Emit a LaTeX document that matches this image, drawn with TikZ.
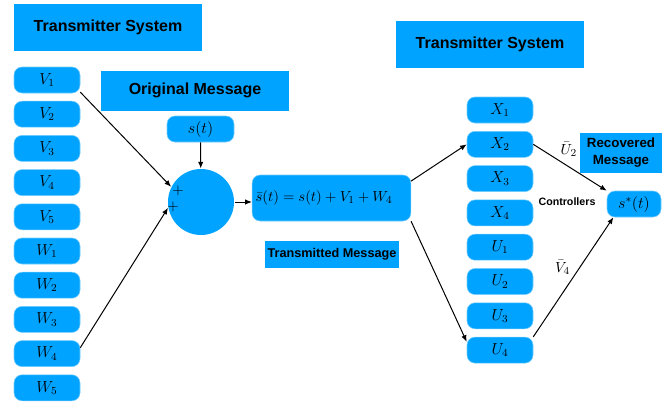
\documentclass[tikz,border=0pt]{standalone}
\usepackage{fontspec}
\newfontfamily\labelfont{Liberation Sans}
\usetikzlibrary{arrows.meta}
\definecolor{cellblue}{RGB}{0,163,255}
\tikzset{every picture/.style={line width=0.75pt}}
\tikzset{
  cell/.style={rectangle, rounded corners=6pt, fill=cellblue, draw=cellblue!55!white, line width=0.4pt,
    minimum width=49.5pt, minimum height=19.5pt, inner sep=0pt, font=\fontsize{12}{14}\selectfont},
  banner/.style={rectangle, fill=cellblue, inner sep=0pt, font=\labelfont\bfseries\fontsize{12}{14}\selectfont},
  caption/.style={font=\labelfont\bfseries\fontsize{8}{10}\selectfont, inner sep=0pt},
  flow/.style={-{Latex[length=5pt,width=4pt]}, line width=0.75pt},
}

\begin{document}
\begin{tikzpicture}[x=0.75pt,y=0.75pt,yscale=-1,xscale=1]
	\useasboundingbox (0,0) rectangle (662,404);

	% Title boxes
	\node[banner, minimum width=141pt, minimum height=35.25pt] (tsleft) at (108,27.5) {Transmitter System};
	\node[banner, minimum width=141pt, minimum height=30pt] (orig) at (195,90.5) {\raisebox{2.5pt}{Original Message}};
	\node[banner, minimum width=141pt, minimum height=35.25pt] (tsright) at (490,44.5) {Transmitter System};
	\node[banner, minimum width=100.5pt, minimum height=20.25pt, font=\labelfont\bfseries\fontsize{9.5}{11}\selectfont] (trans) at (332,254.5) {Transmitted Message};
	\node[banner, minimum width=61.5pt, minimum height=30pt, align=center, font=\labelfont\bfseries\fontsize{10}{12.75}\selectfont] (recov) at (621,153) {Recovered\\Message};

	% Left column of keys
	\foreach \lbl [count=\i] in {V_1,V_2,V_3,V_4,V_5,W_1,W_2,W_3,W_4,W_5}
		\node[cell] (L\i) at (47,{80+34.2*(\i-1)}) {$\lbl$};

	% Right column of keys
	\foreach \lbl [count=\i] in {X_1,X_2,X_3,X_4,U_1,U_2,U_3,U_4}
		\node[cell] (R\i) at (500,{110+34.3*(\i-1)}) {$\lbl$};

	% Message nodes
	\node[cell, minimum width=50.25pt] (src) at (200.5,129) {$s(t)$};
	\node[circle, fill=cellblue, minimum size=49.5pt, inner sep=0pt] (sum) at (201,202) {};
	\node[cell, minimum height=34.5pt, text width=114pt, align=left, inner xsep=2.5pt, font=\fontsize{11}{13}\selectfont] (sbar) at (331.5,198) {$\bar{s}(t)=s(t)+V_1+W_4$};
	\node[cell, minimum width=40.5pt] (sstar) at (634,204) {$s^{*}(t)$};

	% Text Node
	\node[font=\fontsize{11}{13}\selectfont, inner sep=0pt] (plusa) at (178,191) {$+$};
	\node[font=\fontsize{11}{13}\selectfont, inner sep=0pt] (plusb) at (173,207) {$+$};
	\node[caption] (ctrl) at (567,202) {Controllers};

	% Connectors
	\draw[flow] (L1.-20) -- (sum.153);
	\draw[flow] (L9.10) -- (sum.190);
	\draw[flow] (src) -- (sum);
	\draw[flow] (sum.east) -- (sum.east -| sbar.west);
	\draw[flow] (sbar.12) -- (R2.west);
	\draw[flow] (sbar.south east) -- (R8.166);
	\draw[flow] (R2.east) -- node[pos=0.33, above right, inner sep=2pt, font=\fontsize{11}{13}\selectfont] {$\bar{U}_2$} (sstar.north west);
	\draw[flow] (R8.north east) -- node[pos=0.58, left, inner sep=7pt, font=\fontsize{11}{13}\selectfont] {$\bar{V}_4$} ([xshift=5pt]sstar.south west);

\end{tikzpicture}
\end{document}
